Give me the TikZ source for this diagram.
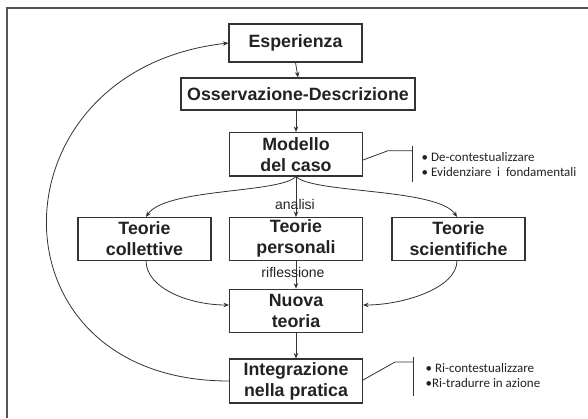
\documentclass[tikz,border=0pt]{standalone}
\usepackage{fontspec}
\setmainfont{Liberation Sans}
\newfontfamily\notefont{Carlito}
\usetikzlibrary{arrows.meta,calc}
\definecolor{ink}{HTML}{222222}
\definecolor{lineclr}{HTML}{333333}
\definecolor{framec}{HTML}{555555}
\tikzset{
  box/.style={draw=lineclr, line width=1.1pt, minimum width=133pt, inner sep=0pt, align=center, text=ink,
    font=\bfseries\fontsize{17.8}{21}\selectfont},
  conn/.style={draw=lineclr, line width=0.8pt, -{Stealth[length=5.5pt,width=4.5pt]}},
  plain/.style={draw=lineclr, line width=0.8pt},
  lab/.style={font=\fontsize{14}{15}\selectfont, text=ink, inner sep=0pt},
  note/.style={font=\notefont\fontsize{13}{15}\selectfont, text=ink, align=left, inner sep=0pt, anchor=west}
}
\begin{document}
\begin{tikzpicture}[x=1pt,y=-1pt]
\useasboundingbox (0,0) rectangle (588,418);
\draw[framec, line width=1.5pt] (7,418) -- (7,8) -- (588,8);

\node[box, minimum height=38pt] (esp) at (295.5,43) {Esperienza};
\node[box, minimum height=32pt, minimum width=234pt] (oss) at (298,94) {Osservazione-Descrizione};
\node[box, minimum height=43.5pt] (mod) at (296,154.2) {Modello\\del caso};
\node[box, minimum height=42.5pt] (col) at (144.5,238.8) {Teorie\\collettive};
\node[box, minimum height=42.5pt] (per) at (296,238.8) {Teorie\\personali};
\node[box, minimum height=42.5pt] (sci) at (458.5,238.8) {Teorie\\scientifiche};
\node[box, minimum height=43pt] (nuo) at (296,310.7) {Nuova\\teoria};
\node[box, minimum height=44pt] (int) at (296,381) {Integrazione\\nella pratica};

\draw[conn] (esp.south) -- (oss.north);
\draw[conn] (oss.south -| mod.north) -- (mod.north);
\draw[conn] (mod.south) -- (per.north);
\draw[conn] (mod.south) .. controls +(-16,17) and +(19,-29) .. ([xshift=1.5pt]col.north);
\draw[conn] (mod.south) .. controls +(16,17) and +(-19,-29) .. ([xshift=-1.5pt]sci.north);
\draw[conn] (per.south) -- (nuo.north);
\draw[conn] ([xshift=1.5pt]col.south) .. controls +(0,28) and +(-39,0) .. ([yshift=5.7pt]nuo.west);
\draw[conn] ([xshift=-1.5pt]sci.south) .. controls +(0,28) and +(39,0) .. ([yshift=5.7pt]nuo.east);
\draw[conn] (nuo.south) -- (int.north);
\draw[conn] (int.west) .. controls +(-245,0) and +(-240,27) .. (esp.west);

\node[lab] (an) at (295,204.5) {analisi};
\node[lab] (ri) at (293,272) {riflessione};

\coordinate (t1) at (412.7,150.7);
\draw[plain] ([yshift=-5.8pt]mod.east) -- ($(t1)+(-24.7,0)$) -- (t1);
\draw[plain] ($(t1)+(0,-5)$) -- ($(t1)+(0,31)$);
\node[note] (n1) at (421.5,164.2) {• De-contestualizzare\\• Evidenziare\ \ i\ \ fondamentali};

\coordinate (t2) at (413.3,362);
\draw[plain] ([yshift=1pt]int.east) -- ($(t2)+(-18.3,0)$) -- (t2);
\draw[plain] ($(t2)+(0,-4.7)$) -- ($(t2)+(0,34)$);
\node[note] (n2) at (425.5,375.5) {• Ri-contestualizzare\\•Ri-tradurre in azione};
\end{tikzpicture}
\end{document}
